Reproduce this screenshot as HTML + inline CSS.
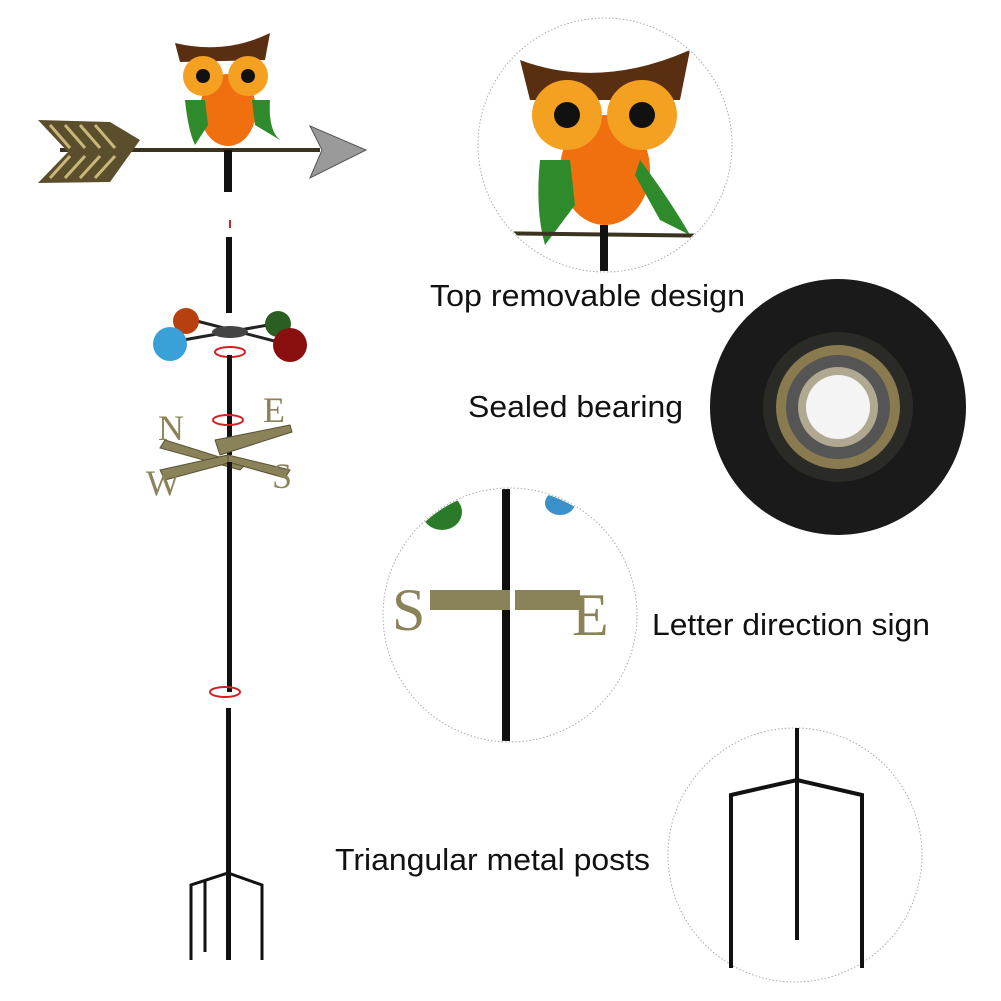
<!DOCTYPE html>
<html><head><style>
body{margin:0;background:#fff;width:1001px;height:1001px;overflow:hidden}
svg{display:block}
text{font-family:"Liberation Sans",sans-serif;fill:#111}
</style></head><body>
<svg width="1001" height="1001" viewBox="0 0 1001 1001">
<g>
 <line x1="60" y1="150" x2="320" y2="150" stroke="#3a3320" stroke-width="4"/>
 <polygon points="38,120 110,122 140,140 110,182 38,183 68,152" fill="#5a4e2c"/>
 <g stroke="#c9b77a" stroke-width="3">
  <line x1="50" y1="125" x2="70" y2="148"/><line x1="65" y1="125" x2="85" y2="148"/><line x1="80" y1="125" x2="100" y2="148"/><line x1="95" y1="125" x2="115" y2="148"/>
  <line x1="50" y1="178" x2="70" y2="156"/><line x1="65" y1="178" x2="85" y2="156"/><line x1="80" y1="178" x2="100" y2="156"/><line x1="95" y1="178" x2="115" y2="156"/>
 </g>
 <polygon points="310,126 366,150 310,178 322,150" fill="#9a9a9a" stroke="#555" stroke-width="1"/>
 <path d="M175,43 Q225,55 270,33 L265,60 L180,62 Z" fill="#5a2e10"/>
 <ellipse cx="228" cy="110" rx="28" ry="36" fill="#f07010"/>
 <circle cx="203" cy="76" r="20" fill="#f4a020"/>
 <circle cx="248" cy="76" r="20" fill="#f4a020"/>
 <circle cx="203" cy="76" r="7" fill="#111"/><circle cx="248" cy="76" r="7" fill="#111"/>
 <path d="M185,100 Q188,130 195,145 L208,125 L205,100 Z" fill="#2e8a2a"/>
 <path d="M270,100 Q268,130 280,140 L255,125 L252,100 Z" fill="#2e8a2a"/>
 <rect x="224" y="150" width="8" height="42" fill="#111"/>
 <line x1="230" y1="220" x2="230" y2="228" stroke="#d02020" stroke-width="2"/>
 <rect x="226" y="237" width="6" height="76" fill="#111"/>
 <g stroke="#222" stroke-width="3">
  <line x1="172" y1="342" x2="285" y2="322"/><line x1="185" y1="318" x2="290" y2="345"/>
 </g>
 <ellipse cx="230" cy="332" rx="18" ry="6" fill="#444"/>
 <circle cx="186" cy="321" r="13" fill="#b84010"/>
 <circle cx="170" cy="344" r="17" fill="#3aa0d8"/>
 <circle cx="278" cy="324" r="13" fill="#2a5e22"/>
 <circle cx="290" cy="345" r="17" fill="#8a1010"/>
 <ellipse cx="230" cy="352" rx="15" ry="5" fill="none" stroke="#d02020" stroke-width="2"/>
 <rect x="227" y="355" width="5" height="100" fill="#111"/>
 <ellipse cx="228" cy="420" rx="15" ry="5" fill="none" stroke="#d02020" stroke-width="2"/>
 <g fill="#8a8258" stroke="#5a5236" stroke-width="1">
  <polygon points="165,440 245,465 240,470 160,448"/>
  <polygon points="215,440 290,425 292,432 220,455"/>
  <polygon points="160,470 228,455 232,462 165,480"/>
  <polygon points="228,455 290,470 285,478 228,462"/>
 </g>
 <text x="158" y="440" font-size="36" style="font-family:'Liberation Serif',serif;fill:#8a8258">N</text>
 <text x="263" y="422" font-size="36" style="font-family:'Liberation Serif',serif;fill:#8a8258">E</text>
 <text x="146" y="495" font-size="36" style="font-family:'Liberation Serif',serif;fill:#8a8258">W</text>
 <text x="272" y="488" font-size="36" style="font-family:'Liberation Serif',serif;fill:#8a8258">S</text>
 <rect x="227" y="462" width="5" height="230" fill="#111"/>
 <ellipse cx="225" cy="692" rx="15" ry="5" fill="none" stroke="#d02020" stroke-width="2"/>
 <rect x="226" y="708" width="5" height="252" fill="#111"/>
 <g stroke="#111" stroke-width="3" fill="none">
  <polyline points="191,960 191,885 228,873 262,885 262,960"/>
  <line x1="205" y1="880" x2="205" y2="952"/>
 </g>
</g>

<circle cx="605" cy="145" r="127" fill="#fff" stroke="#aaa" stroke-dasharray="1.5,2"/>
<clipPath id="c1"><circle cx="605" cy="145" r="126"/></clipPath>
<g clip-path="url(#c1)">
 <path d="M520,60 Q600,90 690,50 L680,100 L530,100 Z" fill="#5a2e10"/>
 <ellipse cx="605" cy="170" rx="45" ry="55" fill="#f07010"/>
 <circle cx="567" cy="115" r="35" fill="#f4a020"/>
 <circle cx="642" cy="115" r="35" fill="#f4a020"/>
 <circle cx="567" cy="115" r="13" fill="#111"/><circle cx="642" cy="115" r="13" fill="#111"/>
 <path d="M540,160 Q535,210 545,245 L575,205 L570,160 Z" fill="#2e8a2a"/>
 <path d="M640,160 Q670,200 690,235 L660,220 L635,175 Z" fill="#2e8a2a"/>
 <line x1="480" y1="233" x2="730" y2="236" stroke="#3a3320" stroke-width="4"/>
 <rect x="600" y="225" width="8" height="50" fill="#111"/>
</g>
<text x="430" y="306" font-size="31" textLength="315" lengthAdjust="spacingAndGlyphs">Top removable design</text>

<circle cx="838" cy="407" r="128" fill="#1a1a1a"/>
<circle cx="838" cy="407" r="75" fill="#2a2a26"/>
<circle cx="838" cy="407" r="62" fill="#8a7a50"/>
<circle cx="838" cy="407" r="52" fill="#555"/>
<circle cx="838" cy="407" r="40" fill="#b0a890"/>
<circle cx="838" cy="407" r="32" fill="#f4f4f4"/>
<text x="468" y="417" font-size="31" textLength="215" lengthAdjust="spacingAndGlyphs">Sealed bearing</text>

<circle cx="510" cy="615" r="127" fill="#fff" stroke="#aaa" stroke-dasharray="1.5,2"/>
<clipPath id="c3"><circle cx="510" cy="615" r="126"/></clipPath>
<g clip-path="url(#c3)">
 <ellipse cx="442" cy="512" rx="20" ry="18" fill="#2a7a2a"/>
 <ellipse cx="560" cy="503" rx="15" ry="12" fill="#3a90c8"/>
 <rect x="502" y="488" width="8" height="260" fill="#111"/>
 <rect x="430" y="590" width="80" height="20" fill="#8a8258"/>
 <rect x="515" y="590" width="65" height="20" fill="#8a8258"/>
 <text x="392" y="630" font-size="60" style="font-family:'Liberation Serif',serif;fill:#8a8258">S</text>
 <text x="572" y="635" font-size="60" style="font-family:'Liberation Serif',serif;fill:#8a8258">E</text>
</g>
<text x="652" y="635" font-size="31" textLength="278" lengthAdjust="spacingAndGlyphs">Letter direction sign</text>

<circle cx="795" cy="855" r="127" fill="#fff" stroke="#aaa" stroke-dasharray="1.5,2"/>
<g stroke="#111" stroke-width="4" fill="none">
 <line x1="797" y1="728" x2="797" y2="940"/>
 <polyline points="731,968 731,795 797,780 862,795 862,968"/>
</g>
<text x="335" y="870" font-size="31" textLength="315" lengthAdjust="spacingAndGlyphs">Triangular metal posts</text>
</svg>
</body></html>
